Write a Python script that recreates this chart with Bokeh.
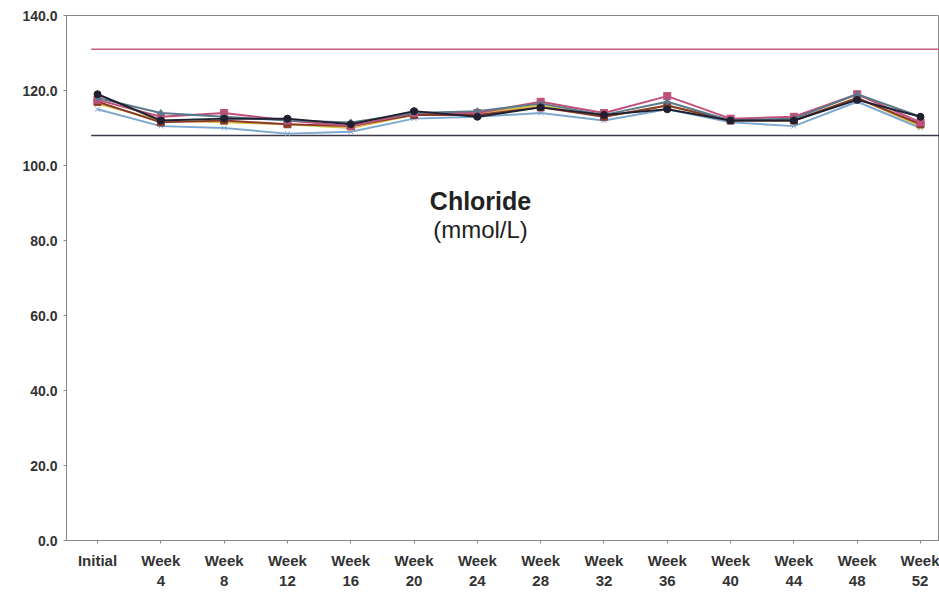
from bokeh.plotting import figure
from bokeh.models import Label, FixedTicker, Range1d
from bokeh.embed import file_html
from bokeh.resources import INLINE

categories = ["Initial", "Week\n4", "Week\n8", "Week\n12", "Week\n16", "Week\n20", "Week\n24",
              "Week\n28", "Week\n32", "Week\n36", "Week\n40", "Week\n44", "Week\n48", "Week\n52"]

series_a = [119.0, 112.0, 112.5, 112.5, 111.0, 114.5, 113.0, 115.5, 113.5, 115.0, 112.0, 112.0, 117.5, 113.0]
series_b = [117.5, 113.0, 114.0, 112.0, 110.5, 114.0, 114.0, 117.0, 114.0, 118.5, 112.5, 113.0, 119.0, 111.5]
series_c = [116.5, 112.0, 111.5, 111.0, 110.0, 113.5, 114.0, 116.0, 113.0, 116.0, 112.0, 112.0, 118.0, 110.5]
series_d = [115.0, 110.5, 110.0, 108.5, 109.0, 112.5, 113.0, 114.0, 112.0, 115.0, 111.5, 110.5, 117.0, 110.0]
series_e = [118.0, 114.0, 113.0, 112.0, 111.5, 114.0, 114.5, 116.5, 113.5, 117.0, 112.0, 112.5, 119.0, 113.0]
series_f = [117.0, 111.5, 112.0, 111.0, 110.5, 113.5, 113.5, 115.5, 113.0, 116.0, 112.0, 112.0, 118.0, 111.0]

upper_limit = 131.0
lower_limit = 108.0

y_ticks = [0, 20, 40, 60, 80, 100, 120, 140]

xs = list(range(len(categories)))

p = figure(width=939, height=592, output_backend="svg", toolbar_location=None,
           x_range=Range1d(-0.49, 13.3), y_range=Range1d(0, 140),
           min_border_left=66, min_border_right=0, min_border_top=15, min_border_bottom=52)
p.background_fill_color = "white"
p.border_fill_color = "white"
p.outline_line_color = "#888888"
p.outline_line_width = 1
p.grid.visible = False

# limit lines
p.line([xs[0] - 0.1, xs[-1] + 0.5], [upper_limit, upper_limit], line_color="#c0607a", line_width=1.5)
p.line([xs[0] - 0.1, xs[-1] + 0.5], [lower_limit, lower_limit], line_color="#3a3a4a", line_width=1.5)

styles = [
    (series_d, "#7fa8d0", "x"),
    (series_c, "#d8c040", "triangle"),
    (series_f, "#8a3a2a", "square"),
    (series_b, "#c0507a", "square_x"),
    (series_e, "#5a7a8a", "diamond"),
    (series_a, "#202030", "circle"),
]
for vals, col, mk in styles:
    p.line(xs, vals, line_color=col, line_width=2)
    p.scatter(xs, vals, marker=mk, size=7, fill_color=col, line_color=col)

p.xaxis.ticker = FixedTicker(ticks=xs)
p.xaxis.major_label_overrides = {i: c for i, c in enumerate(categories)}
p.yaxis.ticker = FixedTicker(ticks=y_ticks)
p.yaxis.major_label_overrides = {t: f"{t:.1f}" for t in y_ticks}

for ax in (p.xaxis[0], p.yaxis[0]):
    ax.axis_line_color = "#888888"
    ax.major_tick_line_color = "#888888"
    ax.minor_tick_line_color = None
    ax.major_tick_out = 3
    ax.major_tick_in = 0
    ax.major_label_text_font = "Liberation Sans"
    ax.major_label_text_font_style = "bold"
    ax.major_label_text_color = "#333333"
p.xaxis.major_label_text_font_size = "15px"
p.yaxis.major_label_text_font_size = "14px"
p.xaxis.major_label_standoff = 8
p.yaxis.major_label_standoff = 6

p.add_layout(Label(x=6.05, y=90.5, text="Chloride", text_align="center", text_baseline="middle",
                   text_font="Liberation Sans", text_font_style="bold", text_font_size="25px",
                   text_color="#222222"))
p.add_layout(Label(x=6.05, y=83.0, text="(mmol/L)", text_align="center", text_baseline="middle",
                   text_font="Liberation Sans", text_font_size="24px", text_color="#222222"))

open("out.html", "w").write(file_html(p, INLINE))
